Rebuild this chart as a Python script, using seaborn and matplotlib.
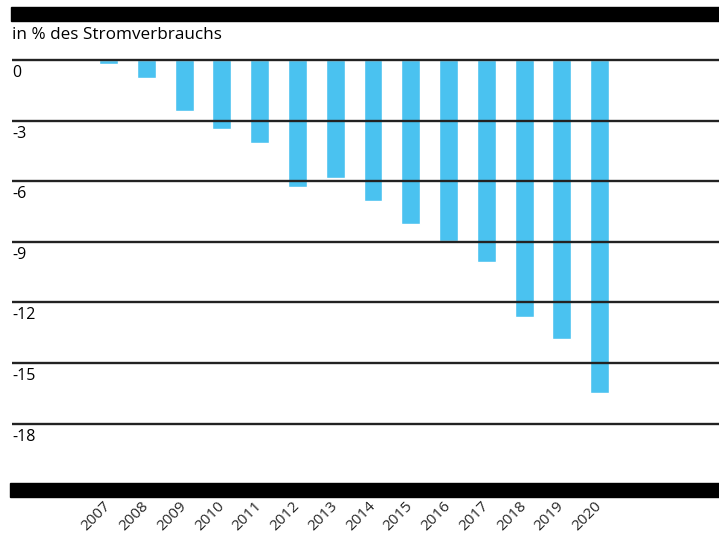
import matplotlib
matplotlib.use("Agg")
import matplotlib.pyplot as plt
import matplotlib.transforms as mtransforms
from matplotlib.patches import Rectangle
import seaborn as sns
import pandas as pd

years = ["2007", "2008", "2009", "2010", "2011", "2012", "2013",
         "2014", "2015", "2016", "2017", "2018", "2019", "2020"]
values = [-0.2, -0.9, -2.5, -3.4, -4.1, -6.3, -5.85,
          -7.0, -8.1, -8.95, -10.0, -12.7, -13.8, -16.5]
yticks = [0, -3, -6, -9, -12, -15, -18]
ytick_labels = ["0", "-3", "-6", "-9", "-12", "-15", "-18"]
title = "in % des Stromverbrauchs"

sns.set_theme(style="white")
plt.rcParams['font.family'] = ['Open Sans', 'DejaVu Sans']

W, H = 719, 535
fig = plt.figure(figsize=(W / 100, H / 100), dpi=100)
# axes in pixel coords: left 12, right 719, top 50, bottom 483
ax = fig.add_axes([12 / W, (H - 483) / H, (719 - 12) / W, (483 - 50) / H])

df = pd.DataFrame({"year": years, "value": values})
sns.barplot(data=df, x="year", y="value", color="#4AC2F0", saturation=1,
            width=0.5, ax=ax, zorder=1)

ax.set_ylim(-20.94, 0.5)
ax.set_xlim(-2.555, 16.16)
for s in ax.spines.values():
    s.set_visible(False)

ax.set_yticks(yticks)
ax.set_yticklabels([])
ax.tick_params(axis="y", length=0)
ax.grid(False)
for v in yticks:
    ax.axhline(v, color="#222222", lw=1.7, zorder=2)

ytrans = mtransforms.blended_transform_factory(ax.transAxes, ax.transData) + \
    mtransforms.ScaledTranslation(0, -5 / 100, fig.dpi_scale_trans)
for v, lab in zip(yticks, ytick_labels):
    ax.text(0, v, lab, transform=ytrans, ha="left", va="top", fontsize=11.5, color="black")

ax.set_xlabel("")
ax.set_ylabel("")
ax.tick_params(axis="x", length=0, pad=15)
for lab in ax.get_xticklabels():
    lab.set_rotation(45)
    lab.set_rotation_mode("anchor")
    lab.set_ha("right")
    lab.set_va("center")
    lab.set_fontsize(11)

# black bands
fig.patches.append(Rectangle((11 / W, (H - 21) / H), (W - 11) / W, 14 / H,
                             transform=fig.transFigure, color="black", zorder=5))
fig.patches.append(Rectangle((10 / W, (H - 497) / H), (W - 10) / W, 14 / H,
                             transform=fig.transFigure, color="black", zorder=5))

fig.text(12 / W, 1 - 35 / H, title, ha="left", va="center", fontsize=12.3, color="black")

fig.savefig("out.png", dpi=100)
